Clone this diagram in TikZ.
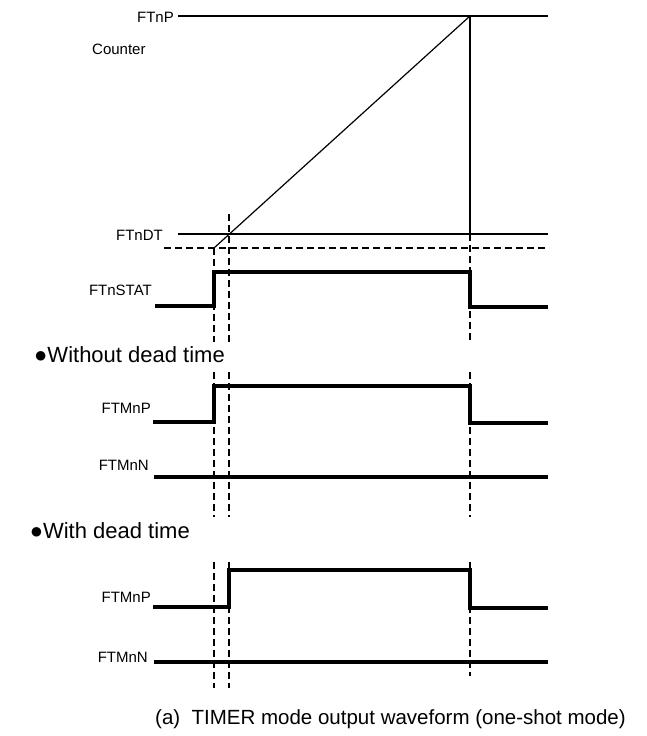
\documentclass[tikz,border=0pt]{standalone}
\usepackage{fontspec}
\setmainfont{Liberation Sans}
\usetikzlibrary{positioning}

\begin{document}
\begin{tikzpicture}[
  x=1pt, y=-1pt,
  thinline/.style={line width=1.2pt},
  wave/.style={line width=3.2pt, line join=miter},
  guide/.style={line width=1.2pt, dash pattern=on 7pt off 4pt},
  siglabel/.style={font=\fontsize{15}{18}\selectfont, inner sep=0pt, anchor=east},
  heading/.style={font=\fontsize{22}{26}\selectfont, inner sep=0pt, anchor=east},
  caption/.style={font=\fontsize{20.5}{24}\selectfont, inner sep=0pt, anchor=west}
]
\useasboundingbox (0,0) rectangle (646,736);

% Counter levels
\coordinate (topL) at (178,16);
\coordinate (topR) at (548,16);
\coordinate (peak) at (470,16);
\coordinate (dtL) at (178,234);
\coordinate (dtR) at (548,234);
\coordinate (cross) at (470,234);
\coordinate (baseL) at (164,248);
\coordinate (baseR) at (548,248);
\coordinate (start) at (214,248);

\node[siglabel] (ftnp) at (174,17) {FTnP};
\node[siglabel, anchor=west] (counter) at (92,49) {Counter};
\node[siglabel] (ftndt) at (163,235) {FTnDT};

\draw[thinline] (topL) -- (topR);
\draw[thinline] (dtL) -- (dtR);
\draw[guide] (baseL) -- (baseR);
\draw[thinline] (start) -- (peak);
\draw[thinline] (peak) -- (cross);

% Guide lines (time marks)
\draw[guide] (start) -- (214,342);
\draw[guide] (229,214) -- (229,345);
\draw[guide] (cross) -- (470,340);
\foreach \gx in {214,229,470} {
  \draw[guide] (\gx,372) -- (\gx,517);
}
\draw[guide] (214,562) -- (214,688);
\draw[guide] (229,562) -- (229,688);
\draw[guide] (470,562) -- (470,676);

% FTnSTAT
\node[siglabel] (ftnstat) at (152,290) {FTnSTAT};
\draw[wave] (155,306) -- (214,306) -- (214,272) -- (470,272) -- (470,307) -- (548,307);

% Without dead time
\node[heading] (nodt) at (225,355) {●Without dead time};
\node[siglabel] (ftmnpA) at (151,408) {FTMnP};
\draw[wave] (153,422) -- (214,422) -- (214,386) -- (470,386) -- (470,423) -- (548,423);
\node[siglabel] (ftmnnA) at (149,465) {FTMnN};
\draw[wave] (154,477) -- (548,477);

% With dead time
\node[heading] (withdt) at (190,531) {●With dead time};
\node[siglabel] (ftmnpB) at (151,597) {FTMnP};
\draw[wave] (153,607) -- (229,607) -- (229,570) -- (470,570) -- (470,608) -- (548,608);
\node[siglabel] (ftmnnB) at (148,657) {FTMnN};
\draw[wave] (154,662) -- (548,662);

% Caption
\node[caption] (cap) at (155,719) {(a)\ \ TIMER mode output waveform (one-shot mode)};

\end{tikzpicture}
\end{document}
